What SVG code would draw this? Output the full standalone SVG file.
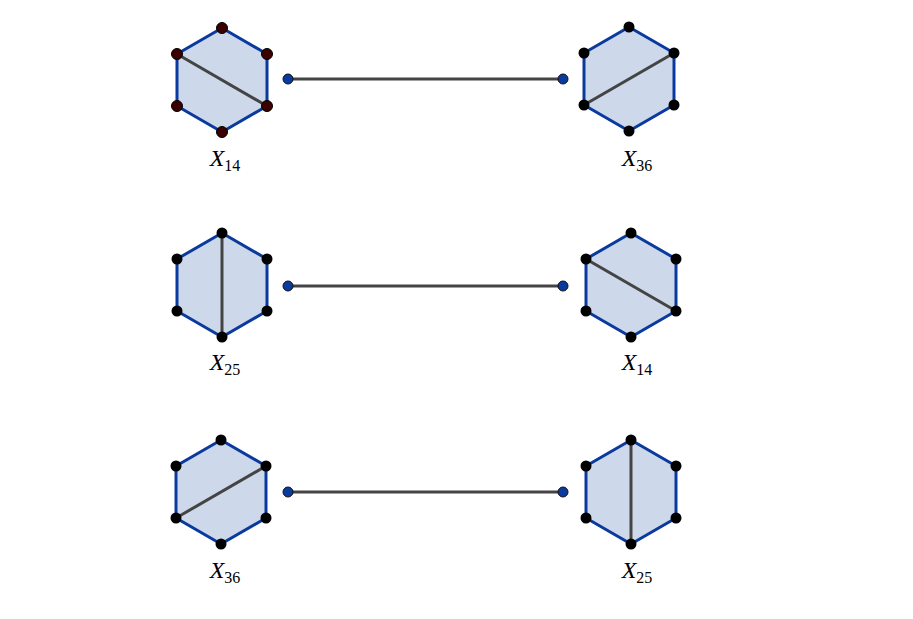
<svg xmlns="http://www.w3.org/2000/svg" width="913" height="619" viewBox="0 0 913 619">
<style>
.hex{fill:#cdd9ea;stroke:#0a3a9e;stroke-width:3;stroke-linejoin:round}
.diag{stroke:#444;stroke-width:3}
.v{fill:#000}
.vr{fill:#3a0000;stroke:#000;stroke-width:1}
.lab{font-family:"Liberation Serif",serif;font-size:24px;font-style:italic;text-anchor:middle}
.sub{font-style:normal;font-size:16px}
.edge{stroke:#444;stroke-width:3}
.end{fill:#0a3a9e;stroke:#111;stroke-width:1}
</style>
<defs>
<g id="h"><polygon class="hex" points="0,-52 45,-26 45,26 0,52 -45,26 -45,-26"/></g>
<g id="dots"><circle class="v" cx="0" cy="-52" r="5.5"/><circle class="v" cx="45" cy="-26" r="5.5"/><circle class="v" cx="45" cy="26" r="5.5"/><circle class="v" cx="0" cy="52" r="5.5"/><circle class="v" cx="-45" cy="26" r="5.5"/><circle class="v" cx="-45" cy="-26" r="5.5"/></g>
<g id="dotsr"><circle class="vr" cx="0" cy="-52" r="5.5"/><circle class="vr" cx="45" cy="-26" r="5.5"/><circle class="vr" cx="45" cy="26" r="5.5"/><circle class="vr" cx="0" cy="52" r="5.5"/><circle class="vr" cx="-45" cy="26" r="5.5"/><circle class="vr" cx="-45" cy="-26" r="5.5"/></g>
</defs>
<rect width="913" height="619" fill="#fff"/>
<g id="connectors">
<line class="edge" x1="288" y1="79" x2="563" y2="79"/>
<line class="edge" x1="288" y1="286" x2="563" y2="286"/>
<line class="edge" x1="288" y1="492" x2="563" y2="492"/>
<circle class="end" cx="288" cy="79" r="5"/><circle class="end" cx="563" cy="79" r="5"/>
<circle class="end" cx="288" cy="286" r="5"/><circle class="end" cx="563" cy="286" r="5"/>
<circle class="end" cx="288" cy="492" r="5"/><circle class="end" cx="563" cy="492" r="5"/>
</g>
<g id="n1" transform="translate(222,80)"><use href="#h"/><line class="diag" x1="-45" y1="-26" x2="45" y2="26"/><use href="#dotsr"/></g>
<text class="lab" x="225" y="166">X<tspan class="sub" dy="5">14</tspan></text>
<g id="n2" transform="translate(629,79)"><use href="#h"/><line class="diag" x1="-45" y1="26" x2="45" y2="-26"/><use href="#dots"/></g>
<text class="lab" x="637" y="166">X<tspan class="sub" dy="5">36</tspan></text>
<g id="n3" transform="translate(222,285)"><use href="#h"/><line class="diag" x1="0" y1="-52" x2="0" y2="52"/><use href="#dots"/></g>
<text class="lab" x="225" y="370">X<tspan class="sub" dy="5">25</tspan></text>
<g id="n4" transform="translate(631,285)"><use href="#h"/><line class="diag" x1="-45" y1="-26" x2="45" y2="26"/><use href="#dots"/></g>
<text class="lab" x="637" y="370">X<tspan class="sub" dy="5">14</tspan></text>
<g id="n5" transform="translate(221,492)"><use href="#h"/><line class="diag" x1="-45" y1="26" x2="45" y2="-26"/><use href="#dots"/></g>
<text class="lab" x="225" y="578">X<tspan class="sub" dy="5">36</tspan></text>
<g id="n6" transform="translate(631,492)"><use href="#h"/><line class="diag" x1="0" y1="-52" x2="0" y2="52"/><use href="#dots"/></g>
<text class="lab" x="637" y="578">X<tspan class="sub" dy="5">25</tspan></text>
</svg>
